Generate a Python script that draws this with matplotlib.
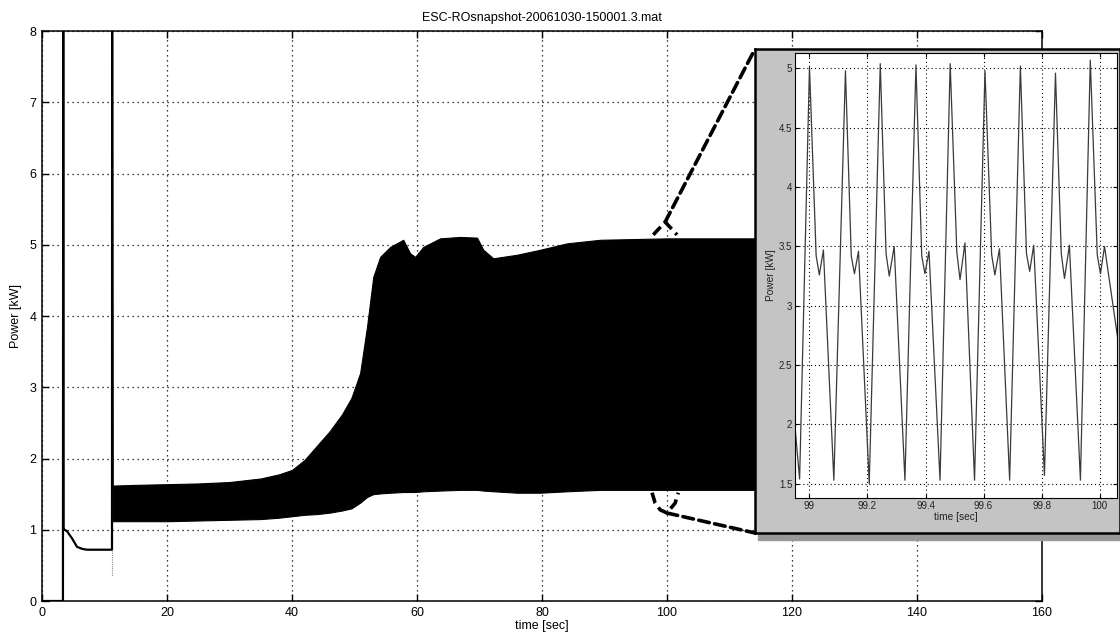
import matplotlib.pyplot as plt
from matplotlib.patches import ConnectionPatch, Rectangle

plt.rcParams["font.family"] = ["Liberation Sans", "DejaVu Sans"]

# start-up transient, single trace [sec], [kW]
t_start = [0, 3.35, 3.4, 3.45, 3.6, 4.0, 4.8, 5.6, 6.5, 7.2, 11.2, 11.22, 11.3]
p_start = [0, 0, 8.6, 1.0, 1.0, 0.98, 0.88, 0.76, 0.73, 0.72, 0.72, 8.6, 1.6]

# envelope of the fast oscillation after start-up
t_env = [11.3, 15, 20, 25, 30, 35, 38, 40, 42, 44, 46, 48, 49.5, 50.9, 52, 53,
         54.1, 55.7, 57.8, 58.9, 59.7, 61, 63.7, 66.9, 69.6, 70.6, 72.2, 76,
         79.7, 84, 89.3, 100, 114, 160]
p_upper = [1.62, 1.63, 1.64, 1.65, 1.67, 1.72, 1.78, 1.84, 1.98, 2.18, 2.38,
           2.62, 2.85, 3.2, 3.85, 4.55, 4.83, 4.97, 5.07, 4.88, 4.83, 4.97, 5.09,
           5.11, 5.10, 4.93, 4.81, 4.86, 4.93, 5.02, 5.07, 5.09, 5.09, 5.09]
p_lower = [1.12, 1.12, 1.12, 1.13, 1.14, 1.15, 1.17, 1.19, 1.21, 1.22, 1.24,
           1.27, 1.30, 1.38, 1.46, 1.50, 1.51, 1.52, 1.53, 1.53, 1.53, 1.54, 1.55,
           1.56, 1.56, 1.55, 1.54, 1.52, 1.52, 1.54, 1.56, 1.56, 1.56, 1.56]

# detail window 99..100 s: turning points of each cycle
min_t = [98.966, 99.084, 99.206, 99.329, 99.450, 99.569, 99.690, 99.810, 99.934]
min_p = [1.54, 1.53, 1.50, 1.53, 1.53, 1.53, 1.53, 1.57, 1.53]
peak_t = [99.000, 99.124, 99.244, 99.367, 99.485, 99.605, 99.727, 99.848, 99.968]
peak_p = [5.01, 4.98, 5.04, 5.03, 5.04, 4.98, 5.02, 4.96, 5.07]
shoulder_t = [99.023, 99.144, 99.264, 99.387, 99.508, 99.628, 99.748, 99.868, 99.992]
shoulder_p = [3.42, 3.42, 3.44, 3.42, 3.45, 3.43, 3.44, 3.44, 3.43]
dip_t = [99.034, 99.155, 99.275, 99.398, 99.519, 99.639, 99.759, 99.879, 100.003]
dip_p = [3.26, 3.27, 3.25, 3.27, 3.22, 3.26, 3.29, 3.23, 3.27]
hump_t = [99.048, 99.169, 99.292, 99.412, 99.536, 99.655, 99.773, 99.896, 100.017]
hump_p = [3.47, 3.46, 3.50, 3.46, 3.53, 3.48, 3.51, 3.51, 3.50]
edge_t = [98.95, 100.07]
edge_p = [1.98, 2.6]

# zoom brackets on the main trace around t = 100 s
top_bracket_t = [97.8, 99.7, 101.6]
top_bracket_p = [5.14, 5.32, 5.14]
low_bracket_t = [97.6, 98.1, 98.9, 100.0, 101.3, 101.8]
low_bracket_p = [1.52, 1.375, 1.28, 1.235, 1.375, 1.52]

wave_t, wave_p = [edge_t[0]], [edge_p[0]]
for i in range(len(peak_t)):
    wave_t += [min_t[i], peak_t[i], shoulder_t[i], dip_t[i], hump_t[i]]
    wave_p += [min_p[i], peak_p[i], shoulder_p[i], dip_p[i], hump_p[i]]
wave_t.append(edge_t[1])
wave_p.append(edge_p[1])

fig = plt.figure(figsize=(11.2, 6.37), dpi=100)
ax = fig.add_axes([0.0375, 0.0565, 0.8929, 0.8948])
ax.fill_between(t_env, p_lower, p_upper, color="black", lw=0.8)
ax.plot(t_start, p_start, color="black", lw=1.6)
ax.plot([11.2, 11.2], [0.72, 0.35], color="0.55", lw=0.8, ls=(0, (1, 1)))
ax.set_xlim(0, 160)
ax.set_ylim(0, 8)
ax.set_xticks(range(0, 161, 20))
ax.set_yticks(range(0, 9))
ax.set_axisbelow(True)
ax.grid(True, color="black", linestyle=(0, (1, 3)), lw=0.9)
ax.tick_params(direction="in", top=True, right=True, length=5, width=1,
               labelsize=9, pad=4)
for sp in ax.spines.values():
    sp.set_linewidth(1.1)
ax.set_title("ESC-ROsnapshot-20061030-150001.3.mat", fontsize=9, pad=7)
ax.set_xlabel("time [sec]", fontsize=9, labelpad=1)
ax.set_ylabel("Power [kW]", fontsize=9, labelpad=5)

dash = (0, (3, 1.5))
ax.plot(top_bracket_t, top_bracket_p, color="black", lw=2.6, ls=dash, clip_on=False)
ax.plot(low_bracket_t, low_bracket_p, color="black", lw=2.6, ls=dash, clip_on=False)

# grey panel holding the close-up
shadow = Rectangle((0.677, 0.152), 0.33, 0.012, transform=fig.transFigure,
                   color="0.6", zorder=1.5)
fig.add_artist(shadow)
panel = fig.add_axes([0.6741, 0.1633, 0.3259, 0.7598], zorder=2)
panel.set_facecolor("#c4c4c4")
panel.set_xticks([])
panel.set_yticks([])
for sp in panel.spines.values():
    sp.set_linewidth(1.8)

inset = fig.add_axes([0.7098, 0.2182, 0.2875, 0.6986], zorder=3)
inset.plot(wave_t, wave_p, color="#3a3a3a", lw=0.9)
inset.set_xlim(98.95, 100.06)
inset.set_ylim(1.38, 5.13)
inset.set_xticks([99, 99.2, 99.4, 99.6, 99.8, 100])
inset.set_xticklabels(["99", "99.2", "99.4", "99.6", "99.8", "100"])
inset.set_yticks([1.5, 2, 2.5, 3, 3.5, 4, 4.5, 5])
inset.set_yticklabels(["1.5", "2", "2.5", "3", "3.5", "4", "4.5", "5"])
inset.grid(True, color="black", linestyle=(0, (1, 2.5)), lw=0.8)
inset.tick_params(direction="in", top=True, right=True, length=3, width=0.8,
                  labelsize=7, pad=2, labelcolor="#222222")
for sp in inset.spines.values():
    sp.set_linewidth(0.8)
inset.set_xlabel("time [sec]", fontsize=7.3, labelpad=1, color="#222222")
inset.set_ylabel("Power [kW]", fontsize=7.3, labelpad=2, color="#222222")

for xy_main, corner in [((99.7, 5.32), (0, 1)), ((100.0, 1.235), (0, 0))]:
    con = ConnectionPatch(xyA=xy_main, coordsA=ax.transData, xyB=corner,
                          coordsB=panel.transAxes, color="black", lw=2.6,
                          ls=dash, zorder=4)
    fig.add_artist(con)

fig.savefig("out.png", dpi=100)
